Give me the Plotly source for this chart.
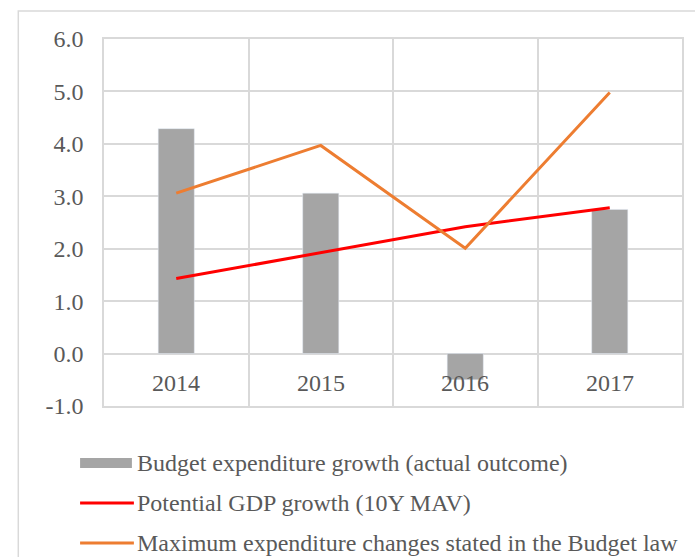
import plotly.graph_objects as go

years = ["2014", "2015", "2016", "2017"]
budget_growth = [4.29, 3.06, -0.5, 2.75]
potential_gdp = [1.43, 1.92, 2.42, 2.78]
max_expenditure = [3.06, 3.97, 2.01, 4.98]
y_ticks = [-1, 0, 1, 2, 3, 4, 5, 6]
y_tick_labels = ["-1.0", "0.0", "1.0", "2.0", "3.0", "4.0", "5.0", "6.0"]
names = ["Budget expenditure growth (actual outcome)",
         "Potential GDP growth (10Y MAV)",
         "Maximum expenditure changes stated in the Budget law"]

FONT = "Liberation Serif"
FS = 24
TXT = "#595959"
GRID = "#d9d9d9"
c_bar, c_red, c_orange = "#a5a5a5", "#ff0000", "#ed7d31"

fig = go.Figure()
fig.add_trace(go.Bar(x=years, y=budget_growth, name=names[0], marker_color=c_bar,
                     width=0.25, showlegend=False))
fig.add_trace(go.Scatter(x=years, y=potential_gdp, name=names[1], mode="lines",
                         line=dict(color=c_red, width=3), showlegend=False))
fig.add_trace(go.Scatter(x=years, y=max_expenditure, name=names[2], mode="lines",
                         line=dict(color=c_orange, width=3), showlegend=False))

# category labels at the zero crossing
for i, yr in enumerate(years):
    fig.add_annotation(x=i, y=-0.56, text=yr, showarrow=False, xref="x", yref="y",
                       font=dict(family=FONT, size=FS, color=TXT), yanchor="middle")

# manual legend
W, H = 695, 557
L, R, T, B = 104, 11, 39, 151
pw, ph = W - L - R, H - T - B
def px(x): return (x - L) / pw
def py(y): return (H - B - y) / ph

shapes = []
shapes.append(dict(type="rect", xref="paper", yref="paper", x0=px(18), x1=px(720),
                   y0=py(11), y1=py(600), line=dict(color=GRID, width=1.5), layer="below"))
leg_y = [463, 503, 543]
shapes.append(dict(type="rect", xref="paper", yref="paper", x0=px(80), x1=px(132),
                   y0=py(leg_y[0] - 5), y1=py(leg_y[0] + 5), fillcolor=c_bar,
                   line=dict(width=0)))
for yy, col in zip(leg_y[1:], [c_red, c_orange]):
    shapes.append(dict(type="line", xref="paper", yref="paper", x0=px(80), x1=px(134),
                       y0=py(yy), y1=py(yy), line=dict(color=col, width=3)))
for yy, nm in zip(leg_y, names):
    fig.add_annotation(x=px(135), y=py(yy), xref="paper", yref="paper", text=nm,
                       showarrow=False, xanchor="left", yanchor="middle",
                       font=dict(family=FONT, size=FS, color=TXT))

fig.update_layout(
    width=W, height=H, margin=dict(l=L, r=R, t=T, b=B),
    paper_bgcolor="white", plot_bgcolor="white",
    shapes=shapes, bargap=0.75,
    font=dict(family=FONT, size=FS, color=TXT),
)
fig.update_xaxes(type="category", tickson="boundaries", showgrid=True, gridcolor=GRID,
                 gridwidth=1.5, showticklabels=False, showline=True, linecolor=GRID,
                 linewidth=1.5, mirror=True, zeroline=False, range=[-0.5, 3.5])
fig.update_yaxes(range=[-1, 6], tickvals=y_ticks, ticktext=y_tick_labels, showgrid=True,
                 gridcolor=GRID, gridwidth=1.5, zeroline=True, zerolinecolor=GRID,
                 zerolinewidth=1.5, showline=True, linecolor=GRID, linewidth=1.5,
                 mirror=True, ticks="", ticklabelstandoff=14,
                 tickfont=dict(family=FONT, size=FS, color=TXT))

fig.write_html("out.html", config={"displayModeBar": False},
               post_script="document.body.style.margin='0';")
